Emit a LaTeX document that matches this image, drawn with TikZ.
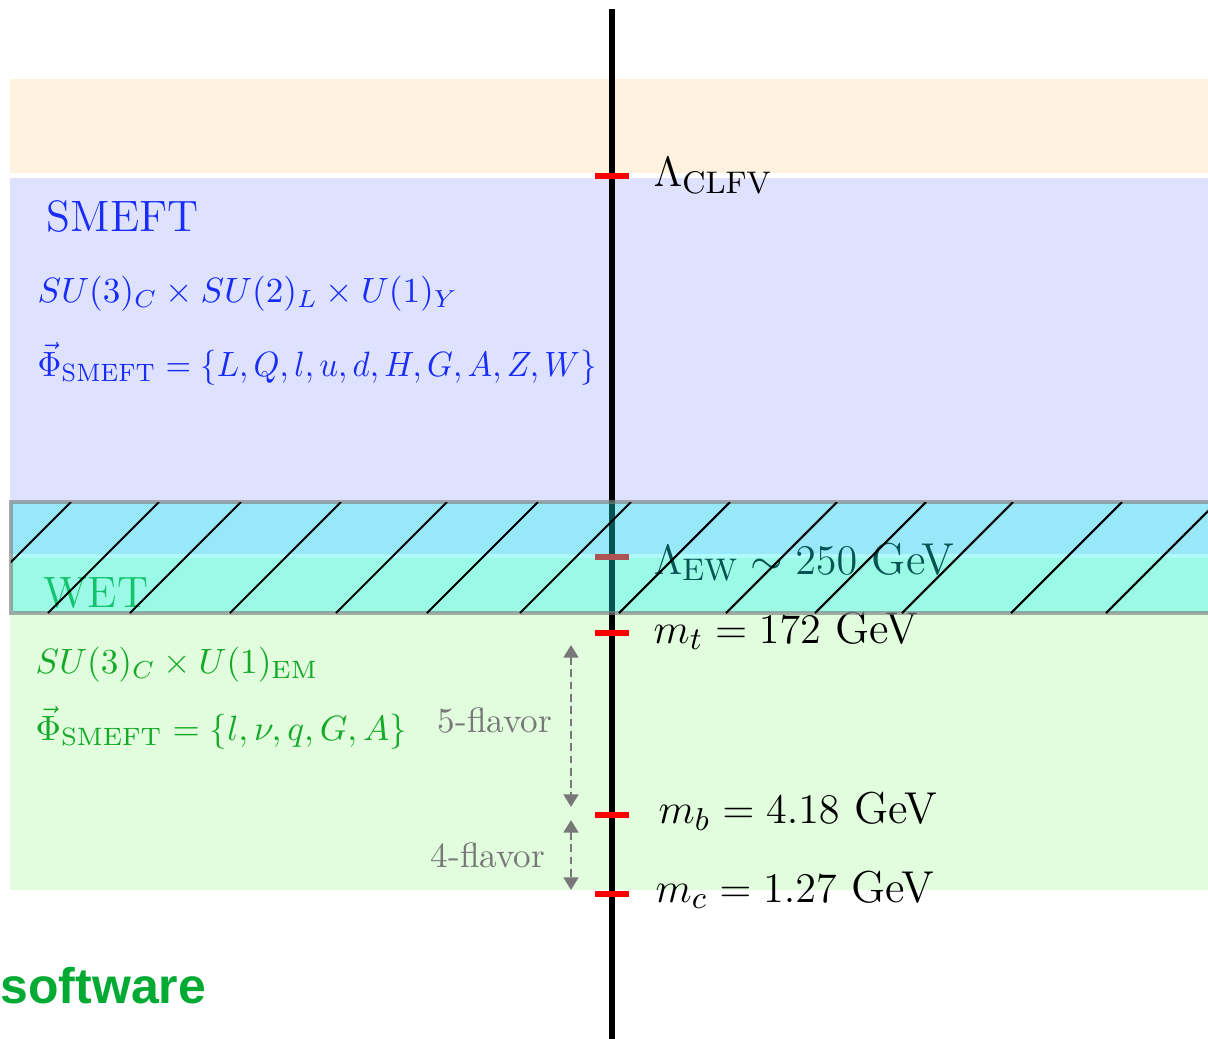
\documentclass[tikz,border=0pt]{standalone}
\usepackage{fontspec}
\newfontfamily\swfont{Liberation Sans}
\usepackage{tikz}
\usetikzlibrary{arrows.meta,calc}

\definecolor{bandorange}{RGB}{254,242,222}
\definecolor{bandblue}{RGB}{222,226,254}
\definecolor{bandgreen}{RGB}{226,253,222}
\definecolor{ovlcyan}{RGB}{20,245,245}
\definecolor{smeftblue}{RGB}{25,45,250}
\definecolor{wetgreen}{RGB}{20,170,40}
\definecolor{swgreen}{RGB}{0,170,51}

\begin{document}
\begin{tikzpicture}[
  x=0.01cm, y=-0.01cm,
  axisline/.style={line width=1.6pt, black},
  tick/.style={line width=1.7pt, red},
  lbl/.style={anchor=base west, inner sep=0pt, font=\fontsize{12.7}{15}\selectfont},
  smeft/.style={anchor=base west, inner sep=0pt, text=smeftblue},
  wet/.style={anchor=base west, inner sep=0pt, text=wetgreen},
  hdfont/.style={font=\fontsize{12.5}{15}\selectfont},
  grpfont/.style={font=\fontsize{10.2}{12}\selectfont},
  ovl/.style={fill=ovlcyan, fill opacity=0.34, draw=gray, draw opacity=0.65,
              line width=1.3pt},
  hatch/.style={line width=0.6pt, black},
  flv/.style={{Triangle[length=3.6pt,width=4.2pt]}-{Triangle[length=3.6pt,width=4.2pt]},
              draw=black!53, fill=black!53, dash pattern=on 2.2pt off 1.3pt,
              line width=0.7pt},
  flvtxt/.style={anchor=base east, inner sep=0pt, text=black!53},
]
\useasboundingbox (0,0) rectangle (1208,1039);

% ---------- the bands ----------
\fill[bandorange] (10,79) rectangle (1208,173);
\fill[bandblue] (10,178) rectangle (1208,554);
\fill[bandgreen] (10,558) rectangle (1208,890);

% ---------- the scale axis ----------
\coordinate (top) at (612,9);
\coordinate (bot) at (612,1045);
\draw[axisline] (top) -- (bot);

\foreach \nm/\yy in {clfv/176, ew/557, mt/633, mb/815, mc/894} {
  \coordinate (\nm) at (612,\yy);
  \draw[tick] ($(\nm)+(-17,0)$) -- ($(\nm)+(17,0)$);
}

\node[lbl] (lclfv) at (653,186) {$\Lambda_{\mathrm{CLFV}}$};
\node[lbl] (lew) at (653,574) {$\Lambda_{\mathrm{EW}}\sim 250$ GeV};
\node[lbl] (lmt) at (653,643) {$m_t = 172$ GeV};
\node[lbl] (lmb) at (658,823) {$m_b = 4.18$ GeV};
\node[lbl] (lmc) at (655,902) {$m_c = 1.27$ GeV};

% ---------- SMEFT ----------
\node[smeft, hdfont] (smefthd) at (46,231) {SMEFT};
\node[smeft, grpfont] (smeftgrp) at (37,302)
  {$SU(3)_C\times SU(2)_L\times U(1)_Y$};
\node[smeft, grpfont] (smeftfld) at (37,376)
  {\scalebox{0.935}[1]{$\vec{\Phi}_{\mathrm{SMEFT}} = \{L,Q,l,u,d,H,G,A,Z,W\}$}};

% ---------- WET ----------
\node[wet, hdfont] (wethd) at (43,607) {WET};
\node[wet, grpfont] (wetgrp) at (35,673)
  {$SU(3)_C\times U(1)_{\mathrm{EM}}$};
\node[wet, grpfont] (wetfld) at (35,740)
  {$\vec{\Phi}_{\mathrm{SMEFT}} = \{l,\nu,q,G,A\}$};

% ---------- flavour ranges ----------
\coordinate (f5a) at (571,645);
\coordinate (f5b) at (571,807);
\coordinate (f4a) at (571,820);
\coordinate (f4b) at (571,890);
\draw[flv] (f5a) -- (f5b);
\draw[flv] (f4a) -- (f4b);
\node[flvtxt] (f5) at (553,732) {5-flavor};
\node[flvtxt] (f4) at (546,867) {4-flavor};

% ---------- matching region ----------
\draw[ovl] (11,502) rectangle (1230,613);
\begin{scope}
  \clip (11,502) rectangle (1230,613);
  \foreach \xb in {-40,48,130,230,336,427,520,619,726,815,902,1011,1106}
    \draw[hatch] (\xb,613) -- ++(111,-111);
\end{scope}

\node[anchor=base west, inner sep=0pt, text=swgreen,
      font=\swfont\bfseries\fontsize{14.2}{16}\selectfont] (sw) at (0,1003) {software};
\end{tikzpicture}
\end{document}
